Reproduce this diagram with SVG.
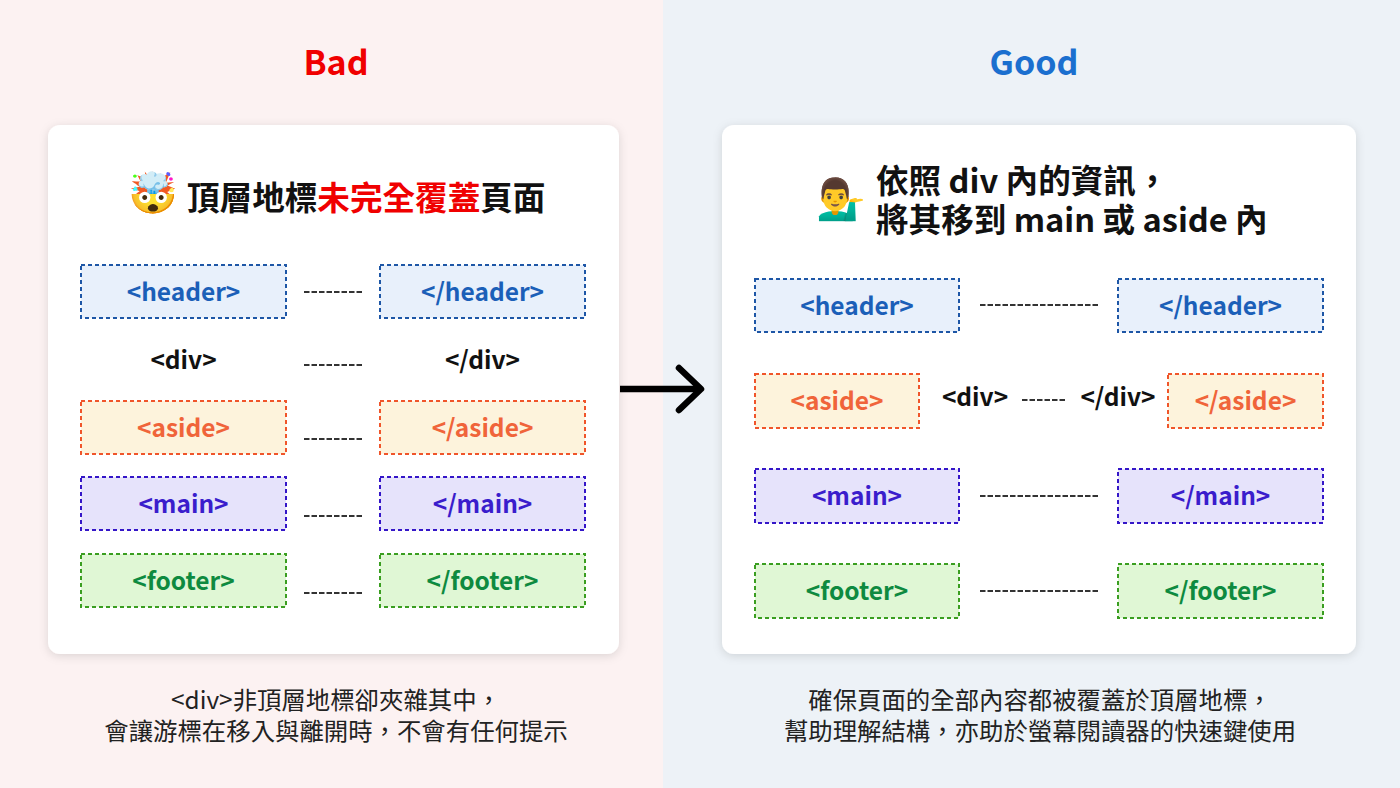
<svg xmlns="http://www.w3.org/2000/svg" width="1400" height="788" viewBox="0 0 1400 788">
<defs>
<filter id="sh" x="-10%" y="-10%" width="120%" height="120%">
<feDropShadow dx="0" dy="2" stdDeviation="5" flood-color="#000" flood-opacity="0.13"/>
</filter>
<style>
text{font-family:"Noto Sans CJK TC","Noto Sans",sans-serif;}
.ttl{font-size:34px;font-weight:700;text-anchor:middle;}
.h2{font-size:32.6px;font-weight:700;fill:#111;}
.lbl{font-size:24.5px;font-weight:700;text-anchor:middle;}
.cap{font-size:24.4px;fill:#222;text-anchor:middle;}
.card{fill:#fff;filter:url(#sh);}
.bx{stroke-width:2;stroke-dasharray:4 3;}
.hd rect{fill:#e8f0fb;stroke:#1d56a6;}
.hd text{fill:#1b5fb8;}
.as rect{fill:#fdf3dc;stroke:#f0552a;}
.as text{fill:#f0643a;}
.mn rect{fill:#e6e3fb;stroke:#3416c8;}
.mn text{fill:#3a1dcc;}
.ft rect{fill:#e0f7d5;stroke:#3a9e20;}
.ft text{fill:#0e8a40;}
.dv text{fill:#111;}
.dl{stroke:#333;stroke-width:2;stroke-dasharray:5.5 2;}
.emo{font-family:"Noto Color Emoji","Noto Sans",sans-serif;font-size:40px;}
</style>
</defs>
<rect x="0" y="0" width="663" height="788" fill="#fcf2f2"/>
<rect x="663" y="0" width="737" height="788" fill="#edf2f7"/>

<text class="ttl" x="336" y="75" fill="#f00000">Bad</text>
<text class="ttl" x="1034" y="75" fill="#1b6fcf">Good</text>

<rect class="card" x="48" y="125" width="571" height="529" rx="12"/>
<rect class="card" x="722" y="125" width="634" height="529" rx="12"/>

<g id="title-bad">
<text class="emo" x="128" y="207">🤯</text>
<text class="h2" x="187" y="210">頂層地標<tspan fill="#f00000">未完全覆蓋</tspan>頁面</text>
</g>
<g id="title-good">
<text class="emo" x="816" y="213">💁‍♂️</text>
<text class="h2" x="876" y="193">依照 div 內的資訊，<tspan x="876" dy="39">將其移到 main 或 aside 內</tspan></text>
</g>

<g id="connectors">
<line class="dl" x1="304" y1="292" x2="363" y2="292"/>
<line class="dl" x1="304" y1="365" x2="363" y2="365"/>
<line class="dl" x1="304" y1="439" x2="363" y2="439"/>
<line class="dl" x1="304" y1="516" x2="363" y2="516"/>
<line class="dl" x1="304" y1="593" x2="363" y2="593"/>
<line class="dl" x1="980" y1="305" x2="1099" y2="305"/>
<line class="dl" x1="1022" y1="400" x2="1066" y2="400"/>
<line class="dl" x1="980" y1="496" x2="1099" y2="496"/>
<line class="dl" x1="980" y1="591" x2="1099" y2="591"/>
<g id="arrow" fill="none" stroke="#000" stroke-width="6.5" stroke-linejoin="round">
<line x1="620" y1="389" x2="700" y2="389"/>
<polyline points="679,368 701,389 679,410" stroke-linecap="round"/>
</g>
</g>

<g id="bad-header-open" class="hd"><rect class="bx" x="81" y="265" width="205" height="53"/><text class="lbl" x="183.5" y="301">&lt;header&gt;</text></g>
<g id="bad-header-close" class="hd"><rect class="bx" x="380" y="265" width="205" height="53"/><text class="lbl" x="482.5" y="301">&lt;/header&gt;</text></g>
<g id="bad-div-open" class="dv"><text class="lbl" x="183.5" y="369">&lt;div&gt;</text></g>
<g id="bad-div-close" class="dv"><text class="lbl" x="482.5" y="369">&lt;/div&gt;</text></g>
<g id="bad-aside-open" class="as"><rect class="bx" x="81" y="401" width="205" height="53"/><text class="lbl" x="183.5" y="437">&lt;aside&gt;</text></g>
<g id="bad-aside-close" class="as"><rect class="bx" x="380" y="401" width="205" height="53"/><text class="lbl" x="482.5" y="437">&lt;/aside&gt;</text></g>
<g id="bad-main-open" class="mn"><rect class="bx" x="81" y="477" width="205" height="53"/><text class="lbl" x="183.5" y="513">&lt;main&gt;</text></g>
<g id="bad-main-close" class="mn"><rect class="bx" x="380" y="477" width="205" height="53"/><text class="lbl" x="482.5" y="513">&lt;/main&gt;</text></g>
<g id="bad-footer-open" class="ft"><rect class="bx" x="81" y="554" width="205" height="53"/><text class="lbl" x="183.5" y="590">&lt;footer&gt;</text></g>
<g id="bad-footer-close" class="ft"><rect class="bx" x="380" y="554" width="205" height="53"/><text class="lbl" x="482.5" y="590">&lt;/footer&gt;</text></g>

<g id="good-header-open" class="hd"><rect class="bx" x="755" y="279" width="204" height="53"/><text class="lbl" x="857" y="315">&lt;header&gt;</text></g>
<g id="good-header-close" class="hd"><rect class="bx" x="1118" y="279" width="205" height="53"/><text class="lbl" x="1220.5" y="315">&lt;/header&gt;</text></g>
<g id="good-aside-open" class="as"><rect class="bx" x="755" y="374" width="164" height="54"/><text class="lbl" x="837" y="410">&lt;aside&gt;</text></g>
<g id="good-div-open" class="dv"><text class="lbl" x="975" y="406">&lt;div&gt;</text></g>
<g id="good-div-close" class="dv"><text class="lbl" x="1118" y="406">&lt;/div&gt;</text></g>
<g id="good-aside-close" class="as"><rect class="bx" x="1168" y="374" width="155" height="54"/><text class="lbl" x="1245.5" y="410">&lt;/aside&gt;</text></g>
<g id="good-main-open" class="mn"><rect class="bx" x="755" y="469" width="204" height="54"/><text class="lbl" x="857" y="505">&lt;main&gt;</text></g>
<g id="good-main-close" class="mn"><rect class="bx" x="1118" y="469" width="205" height="54"/><text class="lbl" x="1220.5" y="505">&lt;/main&gt;</text></g>
<g id="good-footer-open" class="ft"><rect class="bx" x="755" y="564" width="204" height="54"/><text class="lbl" x="857" y="600">&lt;footer&gt;</text></g>
<g id="good-footer-close" class="ft"><rect class="bx" x="1118" y="564" width="205" height="54"/><text class="lbl" x="1220.5" y="600">&lt;/footer&gt;</text></g>

<text class="cap" x="336" y="709">&lt;div&gt;非頂層地標卻夾雜其中，<tspan x="336" dy="31">會讓游標在移入與離開時，不會有任何提示</tspan></text>
<text class="cap" x="1040" y="709">確保頁面的全部內容都被覆蓋於頂層地標，<tspan x="1040" dy="31">幫助理解結構，亦助於螢幕閱讀器的快速鍵使用</tspan></text>
</svg>
